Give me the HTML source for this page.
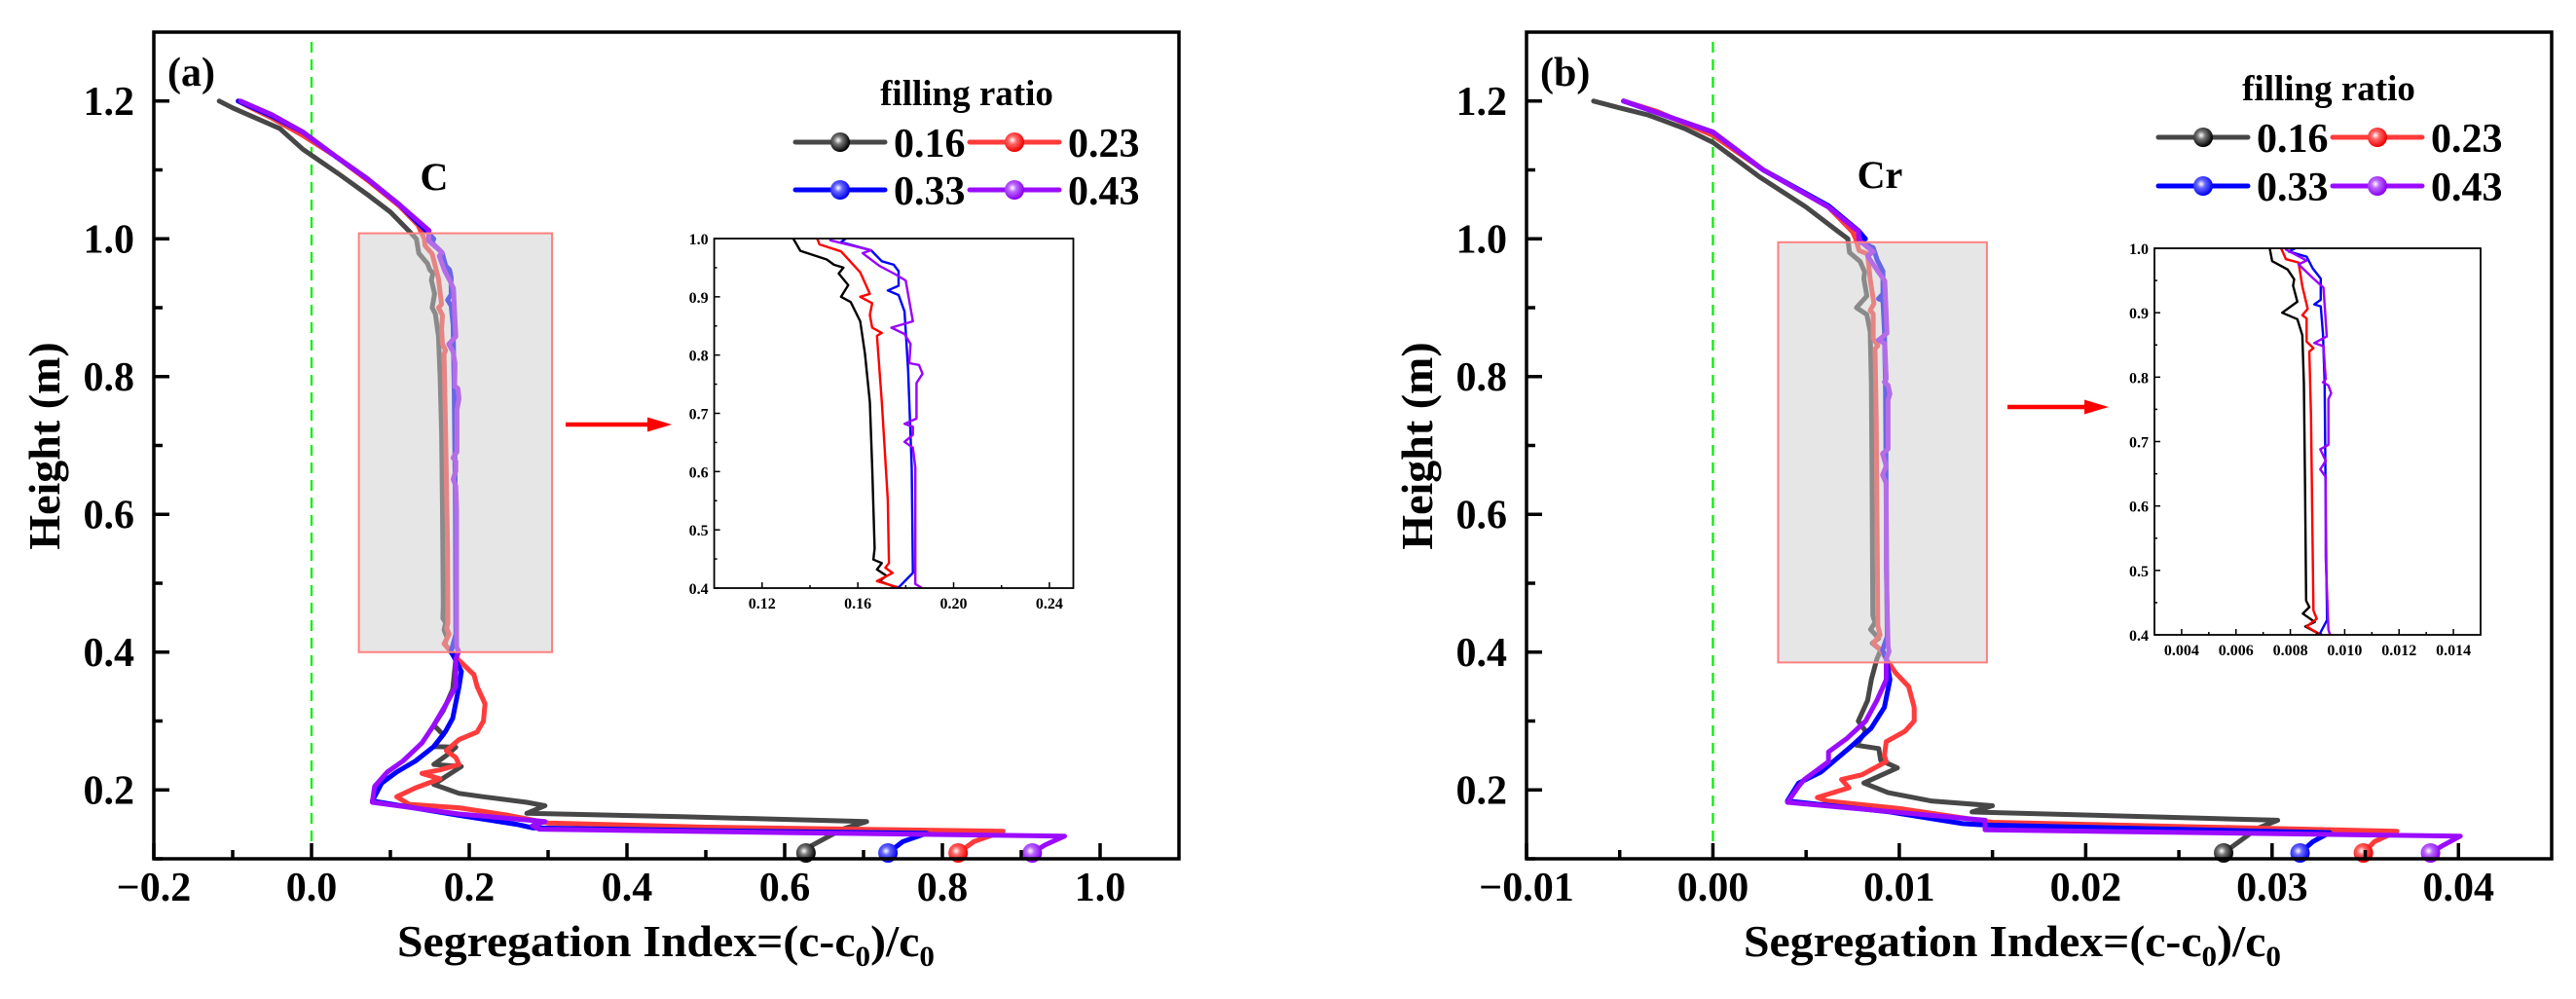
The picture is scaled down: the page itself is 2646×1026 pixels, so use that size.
<!DOCTYPE html>
<html><head><meta charset="utf-8"><style>
html,body{margin:0;padding:0;background:#fff}
svg{display:block}
text{font-family:"Liberation Serif",serif;font-weight:bold;fill:#000}
</style></head><body>
<svg id="fig" xmlns="http://www.w3.org/2000/svg" width="2646" height="1026" viewBox="0 0 2646 1026">
<defs>
<radialGradient id="gBlack" cx="0.4" cy="0.4" r="0.6"><stop offset="0" stop-color="#fff"/><stop offset="0.35" stop-color="#777"/><stop offset="1" stop-color="#000"/></radialGradient>
<radialGradient id="gRed" cx="0.4" cy="0.4" r="0.6"><stop offset="0" stop-color="#fff"/><stop offset="0.35" stop-color="#ff6666"/><stop offset="1" stop-color="#ee0000"/></radialGradient>
<radialGradient id="gBlue" cx="0.4" cy="0.4" r="0.6"><stop offset="0" stop-color="#fff"/><stop offset="0.35" stop-color="#6666ff"/><stop offset="1" stop-color="#0000ee"/></radialGradient>
<radialGradient id="gPurple" cx="0.4" cy="0.4" r="0.6"><stop offset="0" stop-color="#fff"/><stop offset="0.35" stop-color="#bb66ff"/><stop offset="1" stop-color="#8800ee"/></radialGradient>
<clipPath id="clipInsetA"><rect x="733.6" y="245" width="368.9" height="359"/></clipPath>
<clipPath id="clipInsetB"><rect x="2213" y="255" width="335" height="397"/></clipPath>
<clipPath id="clipMainA"><rect x="158" y="33" width="1053" height="849"/></clipPath>
<clipPath id="clipMainB"><rect x="1568" y="33" width="1053" height="849"/></clipPath>
</defs>
</svg>
<script>
// ---------- data: categories ----------
const fillingRatios = ["0.16", "0.23", "0.33", "0.43"];
// ---------- panel (a) C : [segregation index, height] ----------
const cS016 = [[-0.117,1.2],[-0.10,1.19],[-0.08,1.18],[-0.04,1.16],[-0.011,1.13],[0.036,1.093],[0.07,1.065],[0.1,1.039],[0.123,1.012],[0.133,1.0],
 [0.136,0.979],[0.147,0.964],[0.15,0.955],[0.154,0.95],[0.152,0.94],[0.155,0.925],[0.156,0.92],[0.153,0.9],[0.157,0.891],[0.161,0.858],[0.163,0.802],[0.165,0.719],[0.166,0.607],[0.167,0.468],[0.1665,0.449],[0.17,0.443],[0.168,0.432],[0.172,0.421],[0.169,0.412],[0.176,0.401],
 [0.183,0.39],[0.179,0.346],[0.167,0.315],[0.155,0.294],[0.167,0.28],[0.155,0.263],[0.183,0.262],[0.171,0.25],[0.155,0.237],[0.19,0.234],[0.171,0.22],[0.155,0.208],[0.187,0.195],[0.218,0.19],[0.273,0.182],[0.296,0.177],[0.273,0.166],[0.469,0.161],[0.704,0.154],[0.673,0.143],[0.634,0.119],[0.627,0.1085]];
const cS023 = [[-0.093,1.2],[-0.08,1.192],[-0.05,1.175],[-0.011,1.15],[0.03,1.12],[0.071,1.085],[0.111,1.048],[0.135,1.02],[0.143,1.0],
 [0.144,0.99],[0.153,0.978],[0.161,0.942],[0.165,0.905],[0.161,0.9],[0.166,0.889],[0.165,0.869],[0.166,0.847],[0.17,0.838],[0.168,0.833],[0.17,0.719],[0.1725,0.552],[0.173,0.443],[0.1715,0.435],[0.1745,0.426],[0.168,0.412],[0.177,0.401],
 [0.187,0.388],[0.206,0.367],[0.21,0.35],[0.22,0.325],[0.218,0.3],[0.21,0.284],[0.187,0.273],[0.171,0.257],[0.183,0.247],[0.187,0.237],[0.163,0.229],[0.14,0.224],[0.163,0.216],[0.132,0.203],[0.108,0.19],[0.124,0.179],[0.187,0.174],[0.25,0.163],[0.3,0.152],[0.5,0.146],[0.877,0.14],[0.84,0.125],[0.82,0.1085]];
const cS033 = [[-0.093,1.2],[-0.05,1.178],[-0.011,1.155],[0.03,1.12],[0.071,1.087],[0.111,1.05],[0.145,1.012],[0.155,1.0],
 [0.153,0.994],[0.1655,0.98],[0.17,0.961],[0.175,0.955],[0.177,0.944],[0.177,0.919],[0.1725,0.911],[0.177,0.903],[0.1795,0.875],[0.181,0.774],[0.1825,0.607],[0.183,0.426],[0.177,0.401],
 [0.19,0.372],[0.187,0.35],[0.179,0.304],[0.17,0.285],[0.155,0.263],[0.132,0.242],[0.108,0.226],[0.089,0.21],[0.077,0.184],[0.187,0.163],[0.26,0.15],[0.28,0.145],[0.5,0.141],[0.78,0.137],[0.75,0.125],[0.731,0.1085]];
const cS043 = [[-0.09,1.2],[-0.05,1.18],[-0.011,1.155],[0.03,1.12],[0.071,1.087],[0.111,1.05],[0.149,1.012],[0.1485,0.997],
 [0.1655,0.98],[0.162,0.975],[0.169,0.953],[0.1755,0.939],[0.18,0.928],[0.183,0.858],[0.174,0.847],[0.1795,0.836],[0.182,0.819],[0.1815,0.786],[0.1855,0.783],[0.187,0.768],[0.1845,0.752],[0.1845,0.691],[0.1795,0.682],[0.183,0.677],[0.183,0.663],[0.1795,0.651],[0.183,0.641],[0.184,0.607],[0.184,0.407],[0.1865,0.401],
 [0.183,0.39],[0.183,0.35],[0.171,0.325],[0.155,0.294],[0.14,0.268],[0.116,0.242],[0.096,0.226],[0.08,0.205],[0.077,0.182],[0.187,0.165],[0.296,0.154],[0.28,0.148],[0.289,0.143],[0.6,0.138],[0.955,0.133],[0.93,0.12],[0.914,0.1085]];
// ---------- panel (b) Cr ----------
const crS016 = [[-0.0064,1.2],[-0.005,1.19],[-0.0035,1.18],[-0.0015,1.16],[0,1.14],[0.0025,1.09],[0.005,1.046],[0.0067,1.011],[0.00724,1.0],
 [0.00733,0.98],[0.0079,0.967],[0.00814,0.952],[0.0081,0.942],[0.00826,0.917],[0.0077,0.9],[0.00826,0.89],[0.00844,0.865],[0.0085,0.79],[0.00854,0.63],[0.00858,0.453],[0.0087,0.443],[0.00846,0.433],[0.0089,0.42],[0.00855,0.413],[0.009,0.403],
 [0.0088,0.39],[0.0085,0.36],[0.0083,0.33],[0.0078,0.3],[0.0082,0.285],[0.0077,0.265],[0.0089,0.26],[0.009,0.243],[0.0099,0.232],[0.0081,0.21],[0.0094,0.196],[0.0117,0.184],[0.015,0.177],[0.0139,0.168],[0.0303,0.156],[0.0292,0.144],[0.0274,0.1085]];
const crS023 = [[-0.0048,1.2],[-0.003,1.185],[0,1.15],[0.0027,1.1],[0.0062,1.046],[0.0075,1.01],[0.00766,1.0],
 [0.00784,0.983],[0.0083,0.978],[0.00844,0.941],[0.00864,0.906],[0.00844,0.896],[0.0086,0.891],[0.0086,0.855],[0.00885,0.845],[0.0087,0.84],[0.00876,0.74],[0.00885,0.438],[0.00897,0.425],[0.0086,0.413],[0.009,0.403],
 [0.0093,0.39],[0.0098,0.37],[0.0105,0.35],[0.0108,0.32],[0.0108,0.3],[0.0103,0.285],[0.0093,0.27],[0.0092,0.25],[0.0093,0.241],[0.008,0.222],[0.0069,0.215],[0.0073,0.203],[0.0056,0.189],[0.0061,0.184],[0.01,0.173],[0.015,0.153],[0.0367,0.14],[0.0355,0.125],[0.0349,0.1085]];
const crS033 = [[-0.0048,1.2],[0,1.155],[0.0027,1.1],[0.0062,1.048],[0.0078,1.012],[0.00818,1.0],
 [0.00794,0.995],[0.0086,0.987],[0.00882,0.969],[0.00912,0.953],[0.00912,0.92],[0.00888,0.913],[0.00912,0.91],[0.0092,0.867],[0.00926,0.79],[0.00932,0.52],[0.00935,0.423],[0.0091,0.403],
 [0.0093,0.39],[0.0095,0.36],[0.0092,0.32],[0.0085,0.29],[0.0075,0.265],[0.0058,0.226],[0.0046,0.21],[0.004,0.184],[0.0095,0.168],[0.0134,0.151],[0.0146,0.149],[0.0331,0.138],[0.0322,0.125],[0.0315,0.1085]];
const crS043 = [[-0.0048,1.2],[0,1.155],[0.0027,1.1],[0.0062,1.046],[0.0078,1.011],[0.00784,0.998],
 [0.0086,0.981],[0.0083,0.975],[0.00882,0.954],[0.00922,0.939],[0.00934,0.863],[0.00888,0.853],[0.00922,0.848],[0.0093,0.797],[0.0092,0.792],[0.0094,0.787],[0.0095,0.775],[0.0094,0.766],[0.0094,0.695],[0.0091,0.688],[0.0093,0.67],[0.0091,0.657],[0.0093,0.645],[0.0093,0.52],[0.0094,0.408],[0.00945,0.401],
 [0.0093,0.39],[0.0093,0.36],[0.0088,0.33],[0.0082,0.3],[0.0072,0.275],[0.0062,0.255],[0.0062,0.241],[0.0049,0.215],[0.0046,0.205],[0.004,0.182],[0.0146,0.156],[0.0146,0.142],[0.0401,0.133],[0.0392,0.12],[0.0385,0.1085]];
// ---------- tick labels ----------
const aXTicks = [-0.2,0.0,0.2,0.4,0.6,0.8,1.0];
const aXLabels = ["\u22120.2","0.0","0.2","0.4","0.6","0.8","1.0"];
const bXTicks = [-0.01,0.0,0.01,0.02,0.03,0.04];
const bXLabels = ["\u22120.01","0.00","0.01","0.02","0.03","0.04"];
const yTicks = [0.2,0.4,0.6,0.8,1.0,1.2];
const yLabels = ["0.2","0.4","0.6","0.8","1.0","1.2"];
const insetYTicks = [0.4,0.5,0.6,0.7,0.8,0.9,1.0];
const insetAXTicks = [0.12,0.16,0.20,0.24];
const insetAXLabels = ["0.12","0.16","0.20","0.24"];
const insetBXTicks = [0.004,0.006,0.008,0.010,0.012,0.014];
const insetBXLabels = ["0.004","0.006","0.008","0.010","0.012","0.014"];
const zoomBoxA = [0.06,0.305,0.4,1.008];
const zoomBoxB = [0.0035,0.0147,0.385,0.995];

// ---------- rendering ----------
const NS = "http://www.w3.org/2000/svg";
const svg = document.getElementById('fig');
function mk(tag, attrs, parent) {
  const e = document.createElementNS(NS, tag);
  for (const k in attrs) e.setAttribute(k, attrs[k]);
  (parent || svg).appendChild(e);
  return e;
}
function lin(d0, d1, r0, r1) { return v => r0 + (v - d0) * (r1 - r0) / (d1 - d0); }

const mainColors = ["#474747", "#ff3b3b", "#0000ff", "#9b0cff"];
const insetColors = ["#000000", "#ff0000", "#0000ff", "#9900ff"];
const grads = ["url(#gBlack)", "url(#gRed)", "url(#gBlue)", "url(#gPurple)"];

function panel(cfg) {
  const g = mk('g', {});
  
  
  const X = lin(cfg.xmin, cfg.xmax, cfg.L, cfg.R);
  const Y = lin(0.1, 1.3, 882, 33);
  // zero line
  const zl = mk('line', {x1: X(0), x2: X(0), y1: 43, y2: 878, stroke: '#00ee00', 'stroke-width': 2.2, 'stroke-dasharray': '11 7'}, g);
  
  
  // series
  const sg = mk('g', {'clip-path': cfg.clipMain}, g);
  cfg.series.forEach((s, i) => {
    const p = mk('polyline', {points: s.map(d => X(d[0]).toFixed(1) + ',' + Y(d[1]).toFixed(1)).join(' '),
      fill: 'none', stroke: mainColors[i], 'stroke-width': 5, 'stroke-linejoin': 'round', 'stroke-linecap': 'round'}, sg);
    
    
  });
  cfg.series.forEach((s, i) => {
    const last = s[s.length - 1];
    const m = mk('circle', {cx: X(last[0]), cy: Y(last[1]), r: 10, fill: grads[i]}, g);
    
    
  });
  // zoom box
  const b = cfg.box;
  const zr = mk('rect', {x: X(b[0]), y: Y(b[3]), width: X(b[1]) - X(b[0]), height: Y(b[2]) - Y(b[3]),
    fill: 'rgb(205,205,205)', 'fill-opacity': 0.5, stroke: '#ff8080', 'stroke-width': 2}, g);
  
  
  // axes frame
  const fr = mk('rect', {x: cfg.L, y: 33, width: cfg.R - cfg.L, height: 849, fill: 'none', stroke: '#000', 'stroke-width': 3.5}, g);
  
  
  // x ticks
  cfg.xTicks.forEach((t, i) => {
    mk('line', {x1: X(t), x2: X(t), y1: 882, y2: 866, stroke: '#000', 'stroke-width': 3.5}, g);
    const tx = mk('text', {x: X(t), y: 925, 'font-size': 42, 'text-anchor': 'middle'}, g);
    tx.textContent = cfg.xLabels[i];
    
    
    if (i < cfg.xTicks.length - 1 || true) {
      const mt = t + cfg.xMinor;
      if (mt < cfg.xmax) mk('line', {x1: X(mt), x2: X(mt), y1: 882, y2: 873, stroke: '#000', 'stroke-width': 3.5}, g);
    }
  });
  // y ticks
  yTicks.forEach((t, i) => {
    mk('line', {x1: cfg.L, x2: cfg.L + 16, y1: Y(t), y2: Y(t), stroke: '#000', 'stroke-width': 3.5}, g);
    mk('line', {x1: cfg.L, x2: cfg.L + 9, y1: Y(t - 0.1), y2: Y(t - 0.1), stroke: '#000', 'stroke-width': 3.5}, g);
    const ty = mk('text', {x: cfg.L - 20, y: Y(t) + 14, 'font-size': 42, 'text-anchor': 'end'}, g);
    ty.textContent = yLabels[i];
    
    
  });
  // axis titles
  const yt = mk('text', {x: 0, y: 0, 'font-size': 46, 'text-anchor': 'middle', transform: `translate(${cfg.L - 97},458) rotate(-90)`}, g);
  yt.textContent = 'Height (m)';
  
  
  const xt = mk('text', {x: cfg.xTitleX, y: 982, 'font-size': 46, 'text-anchor': 'middle', textLength: 552, lengthAdjust: 'spacingAndGlyphs'}, g);
  xt.innerHTML = 'Segregation Index=(c-c<tspan font-size="30" dy="10">0</tspan><tspan dy="-10">)/c</tspan><tspan font-size="30" dy="10">0</tspan>';
  
  
  // panel letter and element
  const pl = mk('text', {x: cfg.L + 14, y: 88, 'font-size': 42}, g);
  pl.textContent = cfg.letter;
  
  
  const el = mk('text', {x: cfg.elemX, y: cfg.elemY, 'font-size': 40, 'text-anchor': 'middle'}, g);
  el.textContent = cfg.elem;
  
  
  // legend
  const lg = mk('g', {}, g);
  
  
  const lt = mk('text', {x: cfg.leg.titleX, y: cfg.leg.titleY, 'font-size': 37, 'text-anchor': 'middle'}, lg);
  lt.textContent = 'filling ratio';
  
  
  fillingRatios.forEach((fr2, i) => {
    const col = i % 2, row = Math.floor(i / 2);
    const x0 = cfg.leg.x0 + col * cfg.leg.dx, y0 = cfg.leg.rows[row];
    const eg = mk('g', {}, lg);
    
    
    mk('line', {x1: x0, x2: x0 + 92, y1: y0, y2: y0, stroke: mainColors[i], 'stroke-width': 5, 'stroke-linecap': 'round'}, eg);
    mk('circle', {cx: x0 + 46, cy: y0, r: 10, fill: grads[i]}, eg);
    const t = mk('text', {x: x0 + 101, y: y0 + 15, 'font-size': 42}, eg);
    t.textContent = fr2;
  });
  // arrow
  const ar = mk('g', {}, g);
  
  
  mk('line', {x1: cfg.arrow[0], x2: cfg.arrow[1] - 20, y1: cfg.arrow[2], y2: cfg.arrow[2], stroke: '#ff0000', 'stroke-width': 4.5}, ar);
  mk('polygon', {points: `${cfg.arrow[1] - 25},${cfg.arrow[2] - 7.5} ${cfg.arrow[1]},${cfg.arrow[2]} ${cfg.arrow[1] - 25},${cfg.arrow[2] + 7.5}`, fill: '#ff0000'}, ar);
  // inset
  const ins = cfg.inset;
  const ig = mk('g', {}, g);
  
  
  const IX = lin(ins.xmin, ins.xmax, ins.L, ins.R);
  const IY = lin(0.4, 1.0, ins.B, ins.T);
  mk('rect', {x: ins.L, y: ins.T, width: ins.R - ins.L, height: ins.B - ins.T, fill: '#fff'}, ig);
  const icg = mk('g', {'clip-path': ins.clip}, ig);
  cfg.series.forEach((s, i) => {
    const p = mk('polyline', {points: s.map(d => IX(d[0]).toFixed(1) + ',' + IY(d[1]).toFixed(1)).join(' '),
      fill: 'none', stroke: insetColors[i], 'stroke-width': 2.4, 'stroke-linejoin': 'round'}, icg);
    
    
  });
  mk('rect', {x: ins.L, y: ins.T, width: ins.R - ins.L, height: ins.B - ins.T, fill: 'none', stroke: '#000', 'stroke-width': 1.8}, ig);
  ins.xTicks.forEach((t, i) => {
    mk('line', {x1: IX(t), x2: IX(t), y1: ins.B, y2: ins.B - 6, stroke: '#000', 'stroke-width': 1.5}, ig);
    const mt = t + ins.xMinor;
    if (mt < ins.xmax) mk('line', {x1: IX(mt), x2: IX(mt), y1: ins.B, y2: ins.B - 3, stroke: '#000', 'stroke-width': 1.5}, ig);
    const tx = mk('text', {x: IX(t), y: ins.B + 21, 'font-size': 16, 'text-anchor': 'middle'}, ig);
    tx.textContent = ins.xLabels[i];
  });
  insetYTicks.forEach(t => {
    mk('line', {x1: ins.L, x2: ins.L + 6, y1: IY(t), y2: IY(t), stroke: '#000', 'stroke-width': 1.5}, ig);
    if (t < 1.0) mk('line', {x1: ins.L, x2: ins.L + 3, y1: IY(t + 0.05), y2: IY(t + 0.05), stroke: '#000', 'stroke-width': 1.5}, ig);
    const ty = mk('text', {x: ins.L - 6, y: IY(t) + 6, 'font-size': 16, 'text-anchor': 'end'}, ig);
    ty.textContent = t.toFixed(1);
  });
}

panel({name: 'panel-a-carbon', L: 158, R: 1211, xmin: -0.2, xmax: 1.1, xTicks: aXTicks, xLabels: aXLabels, xMinor: 0.1,
  series: [cS016, cS023, cS033, cS043], clipMain: 'url(#clipMainA)', box: zoomBoxA, xTitleX: 684, letter: '(a)',
  elem: 'C', elemX: 446, elemY: 195,
  leg: {titleX: 993, titleY: 108, x0: 817, dx: 179, rows: [146, 195]},
  arrow: [581, 690, 436],
  inset: {L: 733.6, R: 1102.5, T: 245, B: 604, xmin: 0.10, xmax: 0.25, xTicks: insetAXTicks, xLabels: insetAXLabels, xMinor: 0.02, clip: 'url(#clipInsetA)'}});
panel({name: 'panel-b-chromium', L: 1568, R: 2621, xmin: -0.01, xmax: 0.045, xTicks: bXTicks, xLabels: bXLabels, xMinor: 0.005,
  series: [crS016, crS023, crS033, crS043], clipMain: 'url(#clipMainB)', box: zoomBoxB, xTitleX: 2067, letter: '(b)',
  elem: 'Cr', elemX: 1931, elemY: 193,
  leg: {titleX: 2392, titleY: 103, x0: 2217, dx: 179, rows: [141, 191]},
  arrow: [2062, 2166, 418],
  inset: {L: 2213, R: 2548, T: 255, B: 652, xmin: 0.003, xmax: 0.015, xTicks: insetBXTicks, xLabels: insetBXLabels, xMinor: 0.001, clip: 'url(#clipInsetB)'}});
</script>
</body></html>
